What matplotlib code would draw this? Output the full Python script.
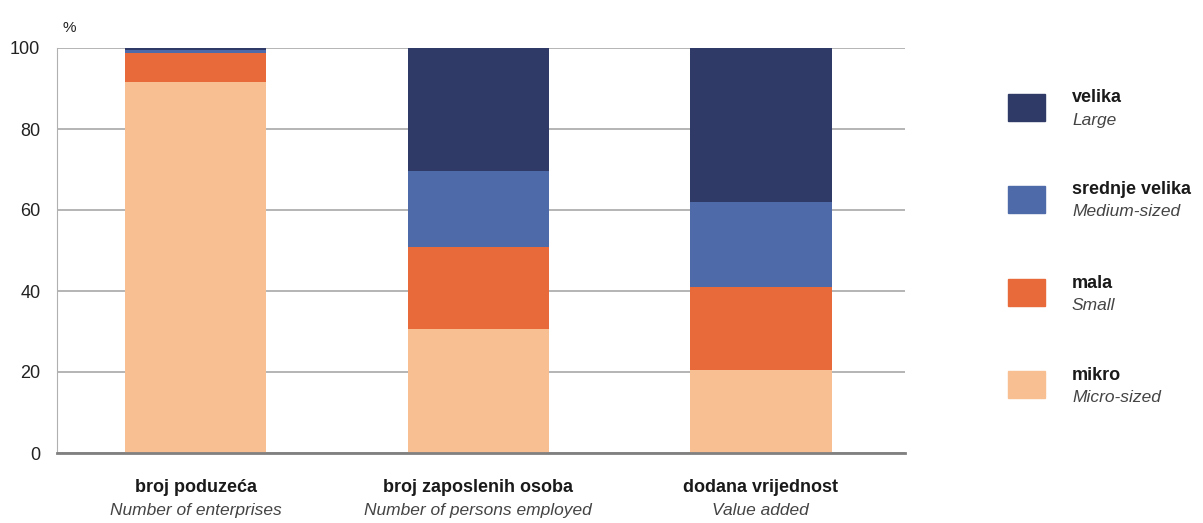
import matplotlib.pyplot as plt
from matplotlib.patches import Rectangle
from matplotlib import font_manager

kategorije = ['broj poduzeća', 'broj zaposlenih osoba', 'dodana vrijednost']
kategorije_en = ['Number of enterprises', 'Number of persons employed', 'Value added']

velicine = ['velika', 'srednje velika', 'mala', 'mikro']
velicine_en = ['Large', 'Medium-sized', 'Small', 'Micro-sized']

mikro = [91.5, 30.5, 20.5]
mala = [7.3, 20.3, 20.6]
srednje = [0.7, 18.8, 20.9]
velika = [0.5, 30.4, 38.0]

boje = {'velika': '#2f3a67', 'srednje velika': '#4f6aa8', 'mala': '#e8693a', 'mikro': '#f8bf93'}

# uska pisma ako postoje
imena = {f.name for f in font_manager.fontManager.ttflist}
obitelj = ['Liberation Sans Narrow', 'DejaVu Sans'] if 'Liberation Sans Narrow' in imena else ['Liberation Sans', 'DejaVu Sans']
plt.rcParams['font.family'] = obitelj

fig = plt.figure(figsize=(12.03, 5.23), dpi=100)
ax = fig.add_axes([57 / 1203, 70 / 523, 848 / 1203, 405 / 523])

x = range(len(kategorije))
dno = [0, 0, 0]
for naziv, vrijednosti in [('mikro', mikro), ('mala', mala), ('srednje velika', srednje), ('velika', velika)]:
    ax.bar(x, vrijednosti, width=0.5, bottom=dno, color=boje[naziv], zorder=3)
    dno = [a + b for a, b in zip(dno, vrijednosti)]

ax.set_xlim(-0.49, 2.51)
ax.set_ylim(0, 100)
ax.set_yticks([0, 20, 40, 60, 80, 100])
ax.yaxis.grid(True, color='#a8a8a8', linewidth=1.2, zorder=0)
ax.set_xticks([])
ax.tick_params(axis='y', length=0, labelsize=13, pad=12, colors='#222222')
for s in ['top', 'right']:
    ax.spines[s].set_visible(False)
ax.spines['left'].set_color('#b0b0b0')
ax.spines['bottom'].set_color('#808080')
ax.spines['bottom'].set_linewidth(2)
ax.spines['bottom'].set_zorder(4)

ax.text(0.006, 1.04, '%', transform=ax.transAxes, fontsize=11, color='#222222')

for i in x:
    ax.text(i, -0.086, kategorije[i], transform=ax.get_xaxis_transform(), ha='center', va='center',
            fontsize=13, fontweight='bold', color='#1a1a1a')
    ax.text(i, -0.142, kategorije_en[i], transform=ax.get_xaxis_transform(), ha='center', va='center',
            fontsize=12.5, style='italic', color='#444444')

# legenda
leg_y = [108, 200, 293, 385]
for naziv, en, yy in zip(velicine, velicine_en, leg_y):
    fig.add_artist(Rectangle((1008 / 1203, 1 - (yy + 13) / 523), 37 / 1203, 27 / 523,
                             transform=fig.transFigure, color=boje[naziv]))
    fig.text(1072 / 1203, 1 - (yy - 10) / 523, naziv, fontsize=13, fontweight='bold',
             color='#1a1a1a', va='center')
    fig.text(1072 / 1203, 1 - (yy + 12) / 523, en, fontsize=12.5, style='italic',
             color='#444444', va='center')

fig.savefig('out.png', dpi=100)
